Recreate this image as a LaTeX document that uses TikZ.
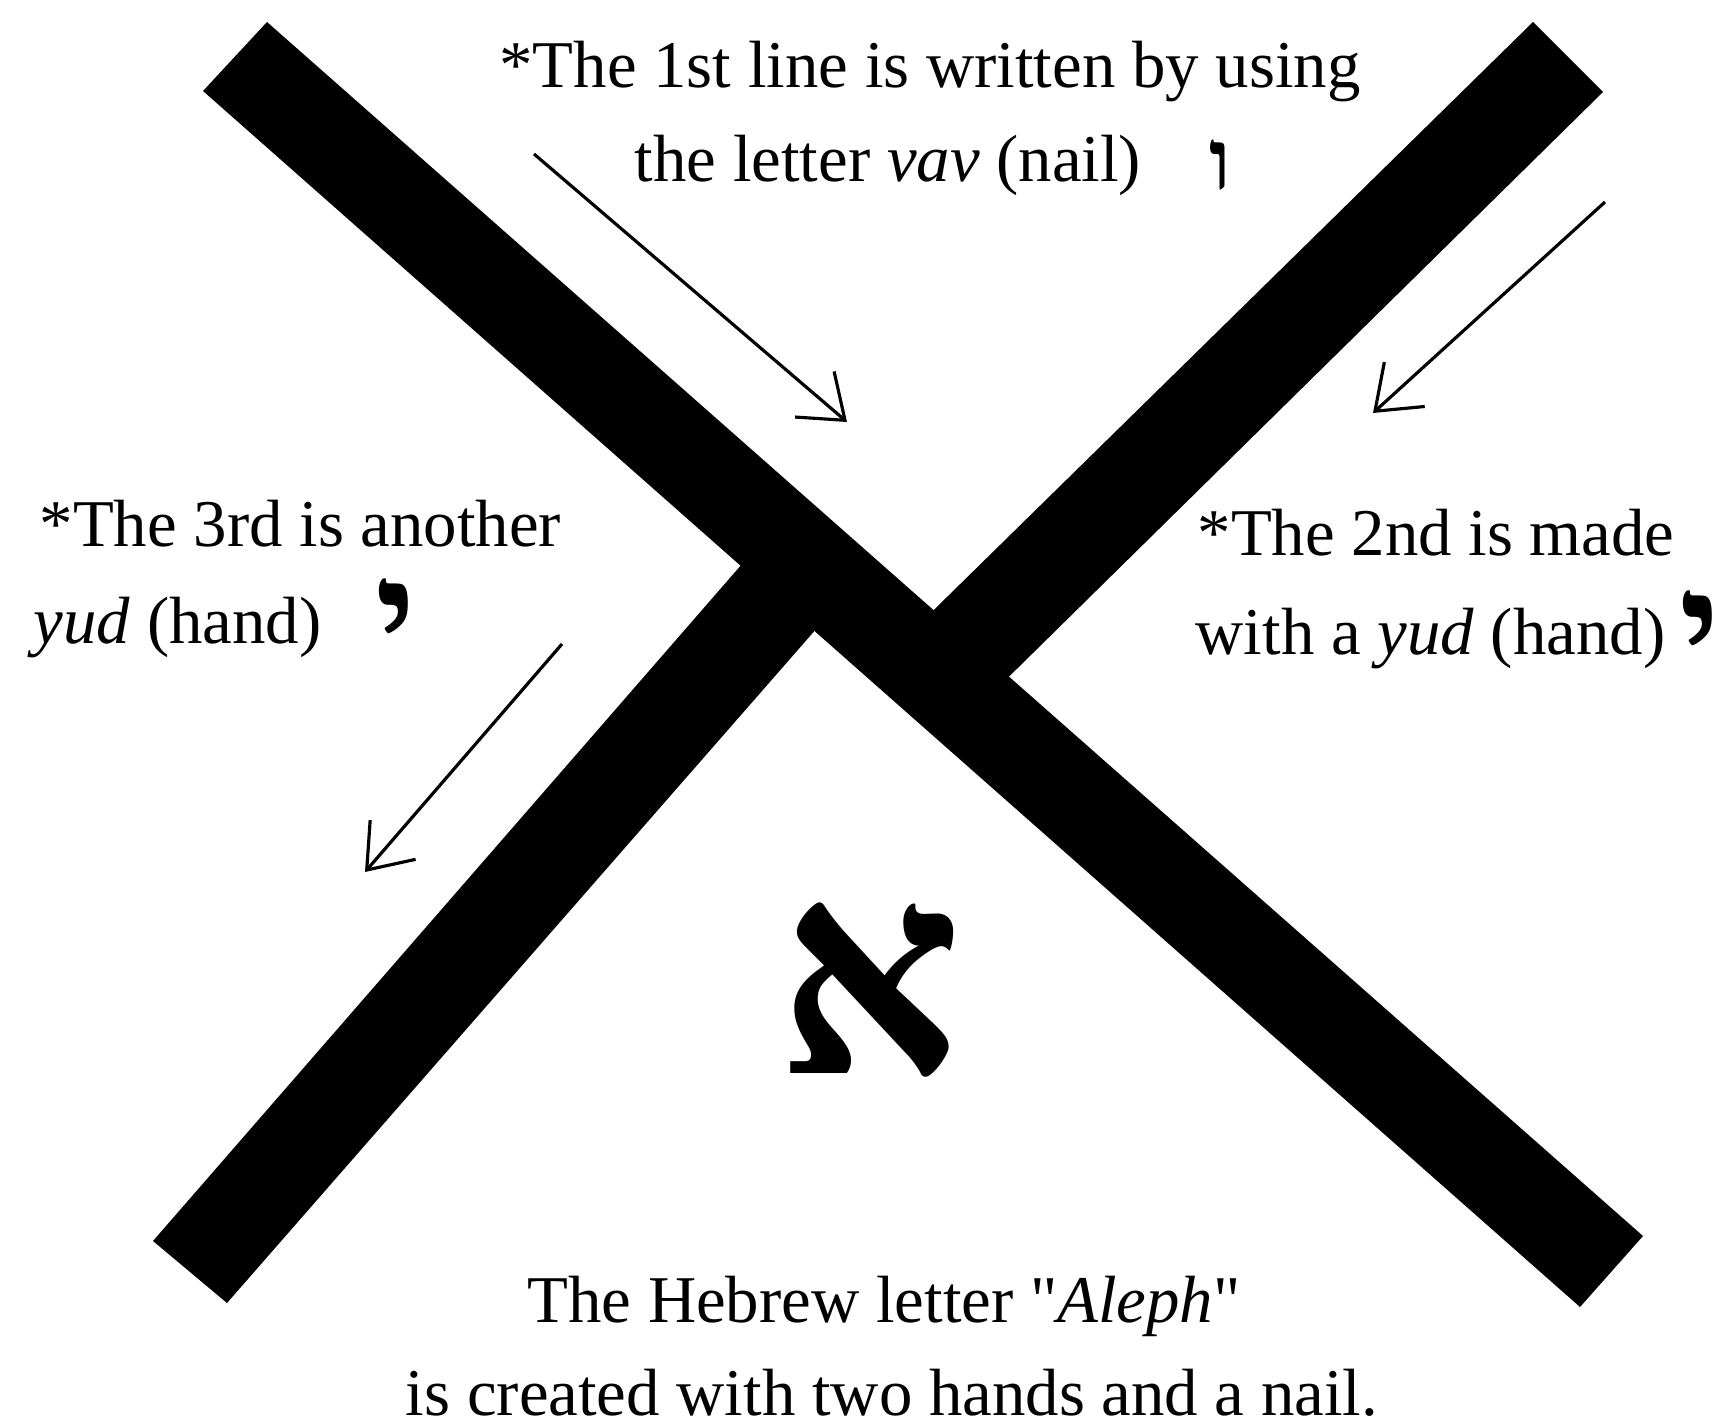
\documentclass[tikz,border=0pt]{standalone}
\usepackage{fontspec}
\setmainfont{Liberation Serif}
\newfontfamily\hebfont[Script=Hebrew]{Liberation Serif}
\usetikzlibrary{arrows.meta}
\begin{document}
\begin{tikzpicture}[x=0.01cm,y=-0.01cm,
			band/.style={fill=black},
			note/.style={font=\fontsize{19}{22}\selectfont, inner sep=0pt},
			letter/.style={inner sep=0pt, font=\hebfont\bfseries\fontsize{#1}{#1}\selectfont},
			pointer/.style={line width=0.9pt, -{Straight Barb[length=4mm,width=6mm]}}
			]
			\useasboundingbox (0,0) rectangle (1727,1425);
			\fill[band] (203,91) -- (267,22) -- (1643,1236) -- (1580,1307) -- cycle;
			\fill[band] (1533,22) -- (1603,92) -- (970,715) -- (894,649) -- cycle;
			\fill[band] (776,525) -- (852,588) -- (227,1303) -- (153,1241) -- cycle;
			\node[note, anchor=base] (first) at (930,88) {*The 1st line is written by using};
			\node[note, anchor=base] (firstb) at (888,182) {the letter \textit{vav} (nail)};
			\node[letter=24] (vav) at (1220,165) {ו};
			\node[note, anchor=base west] (third) at (39,547) {*The 3rd is another};
			\node[note, anchor=base west] (thirdb) at (33,644) {\textit{yud} (hand)};
			\node[letter=44, anchor=base] (yudL) at (396,670) {\smash{י}};
			\node[note, anchor=base west] (second) at (1197,556) {*The 2nd is made};
			\node[note, anchor=base west] (secondb) at (1195,655) {with a \textit{yud} (hand)};
			\node[letter=44, anchor=base] (yudR) at (1700,682) {\smash{י}};
			\node[letter=82] (aleph) at (870,990) {א};
			\node[note, anchor=base] (caption) at (884,1322) {The Hebrew letter \textquotedbl\textit{Aleph}\textquotedbl};
			\node[note, anchor=base] (captionb) at (892,1415) {is created with two hands and a nail.};
			\coordinate (vavtail) at (534,154);
			\coordinate (vavtip) at (847,422);
			\coordinate (yudRtail) at (1605,202);
			\coordinate (yudRtip) at (1373,413);
			\coordinate (yudLtail) at (562,644);
			\coordinate (yudLtip) at (365,872);
			\draw[pointer] (vavtail) -- (vavtip);
			\draw[pointer] (yudRtail) -- (yudRtip);
			\draw[pointer] (yudLtail) -- (yudLtip);
		\end{tikzpicture}
\end{document}
